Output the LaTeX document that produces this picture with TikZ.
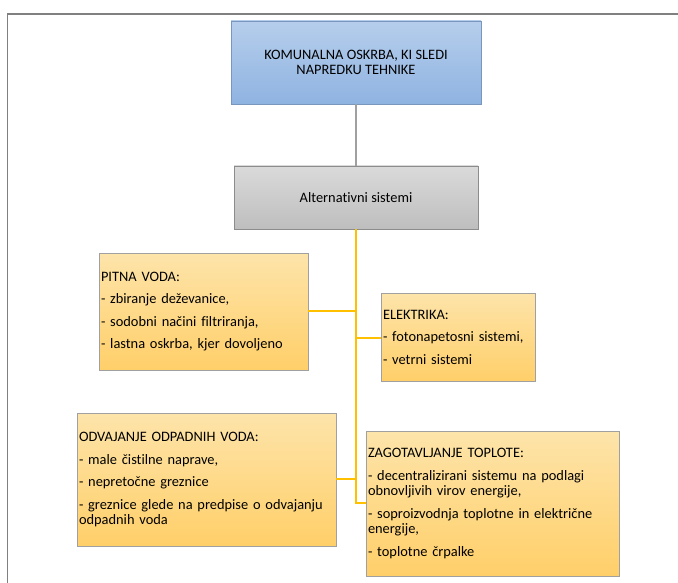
\documentclass[tikz,border=0pt]{standalone}
\usepackage{fontspec}
\setmainfont{Carlito}[Ligatures={NoCommon}]
\definecolor{frame}{RGB}{128,128,128}
\definecolor{oline}{RGB}{255,192,0}
\definecolor{gline}{RGB}{160,160,160}
\definecolor{btop}{RGB}{182,206,236}
\definecolor{bbot}{RGB}{143,179,225}
\definecolor{bdraw}{RGB}{120,150,190}
\definecolor{gtop}{RGB}{218,218,218}
\definecolor{gbot}{RGB}{190,190,190}
\definecolor{gdraw}{RGB}{140,140,140}
\definecolor{otop}{RGB}{253,228,170}
\definecolor{obot}{RGB}{255,207,105}
\definecolor{odraw}{RGB}{160,160,160}
\begin{document}
\begin{tikzpicture}[x=1pt,y=1pt,
  txt/.style={font=\fontsize{14.4}{15.5}\selectfont, text=black},
  bluebox/.style={txt, draw=bdraw, line width=0.8pt, top color=btop, bottom color=bbot, align=center, inner sep=0pt},
  graybox/.style={txt, draw=gdraw, line width=0.8pt, top color=gtop, bottom color=gbot, align=center, inner sep=0pt},
  orbox/.style={txt, draw=odraw, line width=0.8pt, top color=otop, bottom color=obot, align=left, inner xsep=2pt, inner ysep=0pt},
  gconn/.style={color=gline, line width=1.2pt},
  oconn/.style={color=oline, line width=2pt}
]
\useasboundingbox (0,0) rectangle (678,-583);
% frame
\draw[frame, line width=1.5pt] (7.5,-583) -- (7.5,-14) -- (678,-14);

\node[bluebox, minimum width=250pt, minimum height=83pt] (top) at (356,-62.5)
  {\fontsize{14.4}{17.5}\selectfont KOMUNALNA OSKRBA, KI SLEDI\\NAPREDKU TEHNIKE};
\node[graybox, minimum width=244pt, minimum height=63pt] (alt) at (356,-197.5)
  {Alternativni sistemi};

\node[orbox, text width=205pt, minimum height=117pt] (pitna) at (203.5,-311.5)
  {PITNA VODA:\\[7pt]
   - zbiranje deževanice,\\[7pt]
   - sodobni načini filtriranja,\\[7pt]
   - lastna oskrba, kjer dovoljeno};
\node[orbox, text width=150pt, minimum height=88pt] (elek) at (458,-337)
  {ELEKTRIKA:\\[7pt]
   - fotonapetosni sistemi,\\[7pt]
   - vetrni sistemi};
\node[orbox, text width=255pt, minimum height=133pt] (odv) at (206.5,-479.5)
  {ODVAJANJE ODPADNIH VODA:\\[7pt]
   - male čistilne naprave,\\[7pt]
   - nepretočne greznice\\[7pt]
   - greznice glede na predpise o odvajanju\\
   odpadnih voda};
\node[orbox, text width=249pt, minimum height=145pt] (zago) at (492.5,-503.5)
  {ZAGOTAVLJANJE TOPLOTE:\\[7pt]
   - decentralizirani sistemu na podlagi\\
   obnovljivih virov energije,\\[7pt]
   - soproizvodnja toplotne in električne\\
   energije,\\[7pt]
   - toplotne črpalke};

\coordinate (trunk) at (356,-503);
\coordinate (jp) at (356,-311);
\coordinate (je) at (356,-338);
\coordinate (jo) at (356,-479);
\draw[gconn] (top.south) -- (alt.north);
\draw[oconn] (alt.south) -- (trunk) -- (trunk -| zago.west);
\draw[oconn] (jp -| pitna.east) -- (jp);
\draw[oconn] (je) -- (je -| elek.west);
\draw[oconn] (jo -| odv.east) -- (jo);
\end{tikzpicture}
\end{document}
